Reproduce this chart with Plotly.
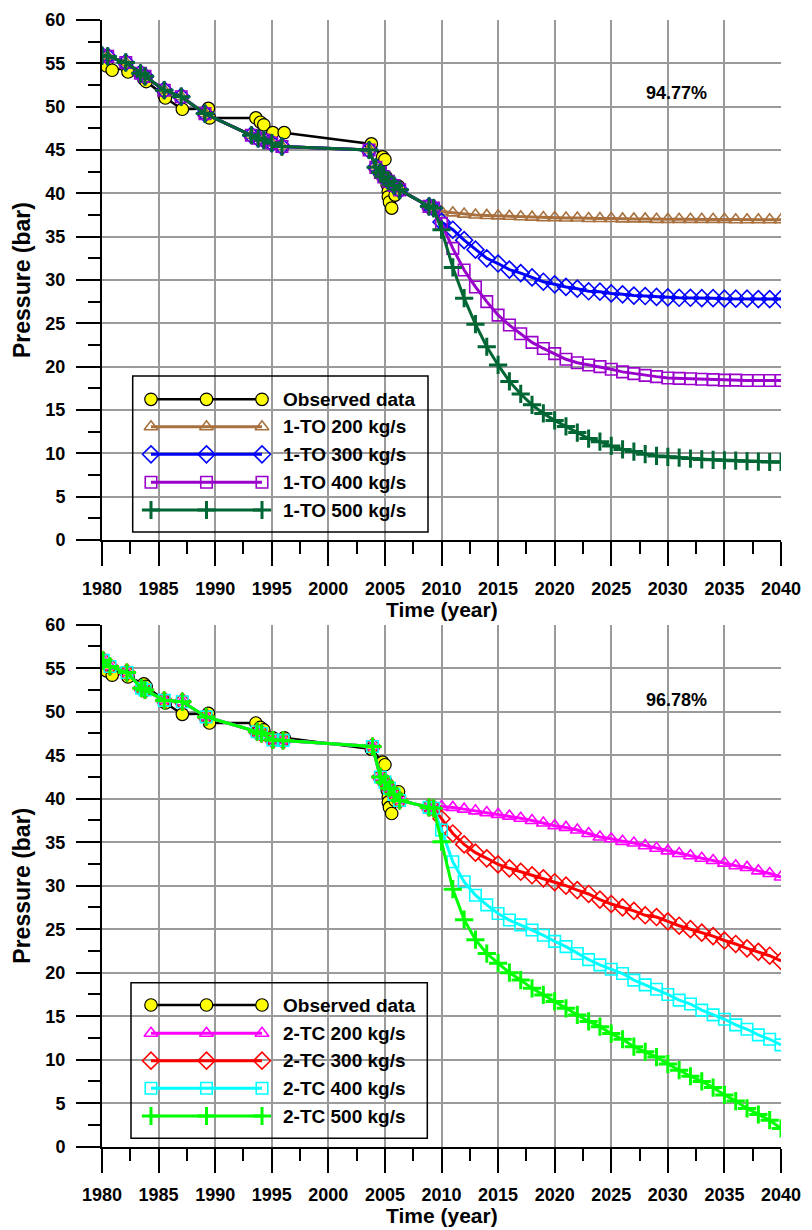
import plotly.graph_objects as go

# ---------------- data ----------------
obs_year = [1980.1, 1980.4, 1980.9, 1982.2, 1982.3, 1983.7, 1983.9, 1985.5, 1985.6,
            1987.1, 1989.4, 1989.5, 1993.6, 1994.0, 1994.3, 1995.1, 1996.1, 2003.8,
            2004.8, 2005.0, 2005.1, 2005.2, 2005.3, 2005.3, 2005.4, 2005.6, 2005.9, 2006.2]
obs_pressure = [55.2, 54.7, 54.2, 54.5, 54.0, 53.2, 52.9, 51.3, 51.0,
                49.7, 49.8, 48.7, 48.7, 48.2, 47.9, 47.0, 47.0, 45.7,
                44.2, 43.9, 41.9, 41.0, 40.2, 39.6, 39.0, 38.3, 39.8, 40.8]

# history match of the 1-TO model
hist_to_year = [1980.0, 1980.5, 1982.1, 1983.4, 1983.8, 1985.5, 1987.0, 1989.1, 1993.2,
                1993.8, 1994.3, 1995.0, 1995.9, 2003.6, 2004.2, 2004.6, 2004.9, 2005.3,
                2005.8, 2006.3, 2008.9, 2009.3]
hist_to_pressure = [55.9, 55.8, 55.1, 53.85, 53.5, 51.9, 51.15, 49.2, 46.7,
                    46.35, 46.15, 45.8, 45.4, 45.0, 43.0, 42.4, 41.9, 41.4,
                    40.9, 40.4, 38.5, 38.3]

# history match of the 2-TC model
hist_tc_year = [1980.1, 1980.7, 1982.2, 1983.5, 1983.8, 1985.5, 1987.1, 1989.2, 1993.7,
                1994.1, 1995.1, 1996.0, 2003.9, 2004.6, 2005.0, 2005.4, 2005.8, 2006.3,
                2008.9, 2009.3]
hist_tc_pressure = [55.9, 55.2, 54.5, 52.7, 52.5, 51.3, 51.15, 49.4, 47.7,
                    47.5, 46.75, 46.7, 46.0, 42.5, 41.9, 41.2, 40.5, 39.8,
                    39.0, 38.9]

forecast_years = list(range(2010, 2041))

to_200 = [37.9, 37.75, 37.6, 37.5, 37.45, 37.4, 37.35, 37.3, 37.25, 37.2, 37.2, 37.15,
          37.15, 37.1, 37.1, 37.1, 37.05, 37.05, 37.05, 37.0, 37.0, 37.0, 37.0, 37.0,
          37.0, 37.0, 36.95, 36.95, 36.95, 36.95, 36.95]
to_300 = [36.7, 35.8, 34.6, 33.5, 32.5, 31.9, 31.2, 30.8, 30.3, 29.8, 29.5, 29.2,
          29.0, 28.7, 28.65, 28.45, 28.35, 28.2, 28.15, 28.05, 28.0, 27.95, 27.95, 27.9,
          27.9, 27.85, 27.85, 27.85, 27.8, 27.8, 27.8]
to_400 = [36.5, 33.65, 31.15, 29.2, 27.5, 25.95, 24.8, 23.8, 22.8, 22.1, 21.5, 20.85,
          20.45, 20.2, 20.0, 19.7, 19.4, 19.2, 19.0, 18.85, 18.7, 18.65, 18.6, 18.55,
          18.5, 18.45, 18.45, 18.4, 18.4, 18.4, 18.4]
to_500 = [35.8, 31.45, 27.9, 24.9, 22.3, 20.2, 18.3, 16.85, 15.6, 14.6, 13.8, 13.1,
          12.4, 11.7, 11.35, 10.85, 10.45, 10.2, 9.9, 9.7, 9.6, 9.5, 9.4, 9.3,
          9.25, 9.2, 9.15, 9.1, 9.05, 9.0, 9.0]

tc_200 = [39.1, 39.0, 38.8, 38.6, 38.4, 38.2, 38.0, 37.75, 37.5, 37.2, 36.9, 36.7,
          36.4, 36.0, 35.6, 35.4, 35.1, 34.9, 34.6, 34.3, 34.0, 33.7, 33.45, 33.15,
          32.9, 32.6, 32.3, 32.1, 31.7, 31.4, 31.0]
tc_300 = [37.7, 36.0, 34.75, 33.8, 33.15, 32.45, 32.0, 31.6, 31.2, 30.85, 30.4, 30.0,
          29.5, 29.05, 28.4, 27.9, 27.5, 27.1, 26.6, 26.4, 25.9, 25.4, 25.0, 24.6,
          24.2, 23.7, 23.3, 22.8, 22.4, 21.95, 21.35]
tc_400 = [36.4, 32.75, 30.45, 28.9, 27.8, 26.8, 26.05, 25.5, 24.9, 24.3, 23.6, 23.0,
          22.2, 21.5, 20.9, 20.4, 19.9, 19.15, 18.6, 18.1, 17.5, 16.85, 16.4, 15.7,
          15.15, 14.65, 14.0, 13.5, 12.85, 12.35, 11.7]
tc_500 = [35.05, 29.6, 26.1, 23.8, 22.2, 21.1, 20.0, 19.15, 18.2, 17.45, 16.7, 15.9,
          15.15, 14.4, 13.8, 13.0, 12.35, 11.5, 10.9, 10.3, 9.5, 8.8, 8.1, 7.5,
          6.8, 5.95, 5.25, 4.4, 3.7, 3.05, 2.1]

match_labels = ["94.77%", "96.78%"]

# ---------------- styling ----------------
W, H = 812, 1230
FONT = "Liberation Sans, Arial, sans-serif"
GRID = "#9a9a9a"

obs_style = dict(line=dict(color="black", width=2.5),
                 marker=dict(symbol="circle", size=12.5, color="#FFFF00",
                             line=dict(color="black", width=1.2)))

MARKER_SIZE = {"triangle-up-open": 12, "diamond-open": 13, "square-open": 11.5}


def rate_style(color, symbol):
    if symbol == "cross-thin":
        mk = dict(symbol="cross-thin", size=13, color=color, line=dict(color=color, width=3))
    else:
        mk = dict(symbol=symbol, size=MARKER_SIZE[symbol], color=color,
                  line=dict(color=color, width=1.6))
    return dict(line=dict(color=color, width=3), marker=mk)


panels = [
    dict(xa="x", ya="y", hist_x=hist_to_year, hist_y=hist_to_pressure,
         series=[("1-TO 200 kg/s", to_200, "#A8703E", "triangle-up-open"),
                 ("1-TO 300 kg/s", to_300, "#0000FF", "diamond-open"),
                 ("1-TO 400 kg/s", to_400, "#9900CC", "square-open"),
                 ("1-TO 500 kg/s", to_500, "#006633", "cross-thin")],
         top=20, bottom=540, label=match_labels[0], label_y=93,
         legend_box=(132.7, 376.0, 428.0, 532.0),
         legend_rows=[399.3, 426.7, 454.3, 482.3, 510.0]),
    dict(xa="x2", ya="y2", hist_x=hist_tc_year, hist_y=hist_tc_pressure,
         series=[("2-TC 200 kg/s", tc_200, "#FF00FF", "triangle-up-open"),
                 ("2-TC 300 kg/s", tc_300, "#FF0000", "diamond-open"),
                 ("2-TC 400 kg/s", tc_400, "#00FFFF", "square-open"),
                 ("2-TC 500 kg/s", tc_500, "#00FF00", "cross-thin")],
         top=624.7, bottom=1146.7, label=match_labels[1], label_y=700,
         legend_box=(131.0, 982.7, 427.3, 1138.3),
         legend_rows=[1005.0, 1033.3, 1060.7, 1088.3, 1116.0]),
]

fig = go.Figure()
shapes, annotations = [], []
LX0, LX1 = 102, 781

for p in panels:
    # observed data
    fig.add_trace(go.Scatter(x=obs_year, y=obs_pressure, mode="lines+markers",
                             xaxis=p["xa"], yaxis=p["ya"], showlegend=False, **obs_style))
    # model runs: shared history followed by the forecast of each rate
    for name, vals, color, symbol in p["series"]:
        fig.add_trace(go.Scatter(x=p["hist_x"] + forecast_years, y=p["hist_y"] + vals,
                                 mode="lines+markers", xaxis=p["xa"], yaxis=p["ya"],
                                 showlegend=False, **rate_style(color, symbol)))

    # legend drawn on the pixel overlay axes (three markers per sample)
    bx0, by0, bx1, by1 = p["legend_box"]
    shapes.append(dict(type="rect", xref="x3", yref="y3", x0=bx0, y0=by0, x1=bx1, y1=by1,
                       line=dict(color="black", width=1.5), fillcolor="rgba(0,0,0,0)"))
    entries = [("Observed data", obs_style)] + [
        (name, rate_style(color, symbol)) for name, _, color, symbol in p["series"]]
    for (name, style), ry in zip(entries, p["legend_rows"]):
        fig.add_trace(go.Scatter(x=[151, 206.5, 262], y=[ry, ry, ry], mode="lines+markers",
                                 xaxis="x3", yaxis="y3", showlegend=False,
                                 hoverinfo="skip", **style))
        annotations.append(dict(x=281, y=ry, xref="x3", yref="y3", text=name,
                                showarrow=False, xanchor="left", yanchor="middle",
                                font=dict(size=19, family=FONT, weight="bold", color="black")))

    annotations.append(dict(x=676, y=p["label_y"], xref="x3", yref="y3",
                            text=p["label"], showarrow=False, xanchor="center", yanchor="middle",
                            font=dict(size=18, family=FONT, weight="bold", color="black")))
    mid = (p["top"] + p["bottom"]) / 2
    annotations.append(dict(x=22, y=mid, xref="x3", yref="y3", text="Pressure (bar)",
                            textangle=-90, showarrow=False, xanchor="center", yanchor="middle",
                            font=dict(size=23, family=FONT, weight="bold", color="black")))
    annotations.append(dict(x=(LX0 + LX1) / 2, y=p["bottom"] + 69, xref="x3", yref="y3",
                            text="Time (year)", showarrow=False, xanchor="center",
                            yanchor="middle",
                            font=dict(size=21, family=FONT, weight="bold", color="black")))

tick_font = dict(size=18, family=FONT, weight="bold", color="black")


def xaxis_cfg(anchor):
    return dict(domain=[LX0 / W, LX1 / W], range=[1980, 2040], anchor=anchor,
                automargin=False,
                tickmode="linear", tick0=1980, dtick=5, ticks="outside", ticklen=24,
                tickwidth=1.5, tickcolor="black", showline=True, linecolor="black",
                linewidth=2, showgrid=True, gridcolor=GRID, gridwidth=1.5, zeroline=False,
                tickfont=tick_font, ticklabelstandoff=7,
                minor=dict(dtick=2.5, tick0=1980, ticks="outside", ticklen=12,
                           tickwidth=1.5, tickcolor="black", showgrid=False))


def yaxis_cfg(anchor, top, bottom):
    return dict(domain=[1 - bottom / H, 1 - top / H], range=[0, 60], anchor=anchor,
                automargin=False,
                tickmode="linear", tick0=0, dtick=5, ticks="outside", ticklen=24,
                tickwidth=1.5, tickcolor="black", showline=True, linecolor="black",
                linewidth=2, showgrid=True, gridcolor=GRID, gridwidth=1.5, zeroline=False,
                tickfont=tick_font, ticklabelstandoff=7,
                minor=dict(dtick=2.5, tick0=0, ticks="outside", ticklen=12,
                           tickwidth=1.5, tickcolor="black", showgrid=False))


fig.update_layout(
    width=W, height=H, margin=dict(l=0, r=0, t=0, b=0, autoexpand=False),
    paper_bgcolor="white", plot_bgcolor="rgba(0,0,0,0)",
    xaxis=xaxis_cfg("y"), yaxis=yaxis_cfg("x", panels[0]["top"], panels[0]["bottom"]),
    xaxis2=xaxis_cfg("y2"), yaxis2=yaxis_cfg("x2", panels[1]["top"], panels[1]["bottom"]),
    xaxis3=dict(domain=[0, 1], range=[0, W], anchor="y3", visible=False, fixedrange=True,
                automargin=False),
    yaxis3=dict(domain=[0, 1], range=[H, 0], anchor="x3", visible=False, fixedrange=True,
                automargin=False),
    shapes=shapes, annotations=annotations, showlegend=False,
)

fig.write_html("out.html")
